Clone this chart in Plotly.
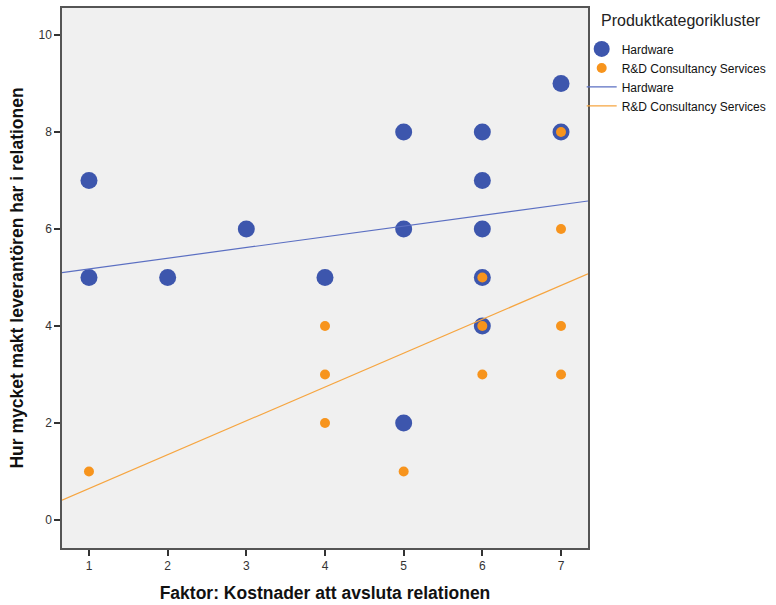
import plotly.graph_objects as go

# Data
hw_x = [1, 1, 2, 3, 4, 5, 5, 5, 6, 6, 6, 6, 6, 7, 7]
hw_y = [7, 5, 5, 6, 5, 8, 6, 2, 8, 7, 6, 5, 4, 9, 8]
rd_x = [1, 4, 4, 4, 5, 6, 6, 6, 7, 7, 7, 7]
rd_y = [1, 4, 3, 2, 1, 5, 4, 3, 8, 6, 4, 3]

# Fit lines: intercept, slope
hw_fit = (4.955, 0.221)
rd_fit = (-0.049, 0.698)

x_range = [0.657, 7.343]
y_range = [-0.576, 10.556]

x_ticks = [1, 2, 3, 4, 5, 6, 7]
y_ticks = [0, 2, 4, 6, 8, 10]

legend_title = "Produktkategorikluster"

blue = "#3D56AD"
orange = "#F7941D"
blue_line = "#5B6FC2"
orange_line = "#F6A540"

fig = go.Figure()
fig.add_trace(go.Scatter(x=hw_x, y=hw_y, mode="markers", name="Hardware",
                         marker=dict(color=blue, size=17, line=dict(width=0))))
fig.add_trace(go.Scatter(x=rd_x, y=rd_y, mode="markers", name="R&D Consultancy Services",
                         marker=dict(color=orange, size=10, line=dict(width=0))))
fig.add_trace(go.Scatter(x=x_range, y=[hw_fit[0] + hw_fit[1] * v for v in x_range],
                         mode="lines", name="Hardware",
                         line=dict(color=blue_line, width=1.2)))
fig.add_trace(go.Scatter(x=x_range, y=[rd_fit[0] + rd_fit[1] * v for v in x_range],
                         mode="lines", name="R&D Consultancy Services",
                         line=dict(color=orange_line, width=1.2)))

axis_common = dict(showgrid=False, zeroline=False, showline=True, mirror=True,
                   linecolor="#555555", linewidth=1.5, ticks="outside", ticklen=6,
                   tickcolor="#333333", tickwidth=1.5,
                   tickfont=dict(family="Liberation Sans, Arial", size=12, color="#333333"))

fig.update_layout(
    width=776, height=605,
    margin=dict(l=62, r=188, t=8, b=57, autoexpand=False),
    paper_bgcolor="white", plot_bgcolor="#F0F0F0",
    font=dict(family="Liberation Sans, Arial", color="#111111"),
    xaxis=dict(range=x_range, tickvals=x_ticks,
               title=dict(text="<b>Faktor: Kostnader att avsluta relationen</b>",
                          font=dict(size=17.5, color="#111111"), standoff=15),
               **axis_common),
    yaxis=dict(range=y_range, tickvals=y_ticks,
               title=dict(text="<b>Hur mycket makt leverantören har i relationen</b>",
                          font=dict(size=17.5, color="#111111"), standoff=10),
               **axis_common),
    legend=dict(x=0.988, xanchor="left", y=0.951, yanchor="top",
                font=dict(size=12, color="#111111"),
                bgcolor="rgba(0,0,0,0)", tracegroupgap=0, itemwidth=30),
    showlegend=True,
    annotations=[dict(text=legend_title, xref="paper", yref="paper",
                      x=1.0, xshift=11, y=1.0, yshift=-2, xanchor="left", yanchor="top",
                      showarrow=False, font=dict(size=16, color="#222222"))],
)

fig.write_html("out.html")
